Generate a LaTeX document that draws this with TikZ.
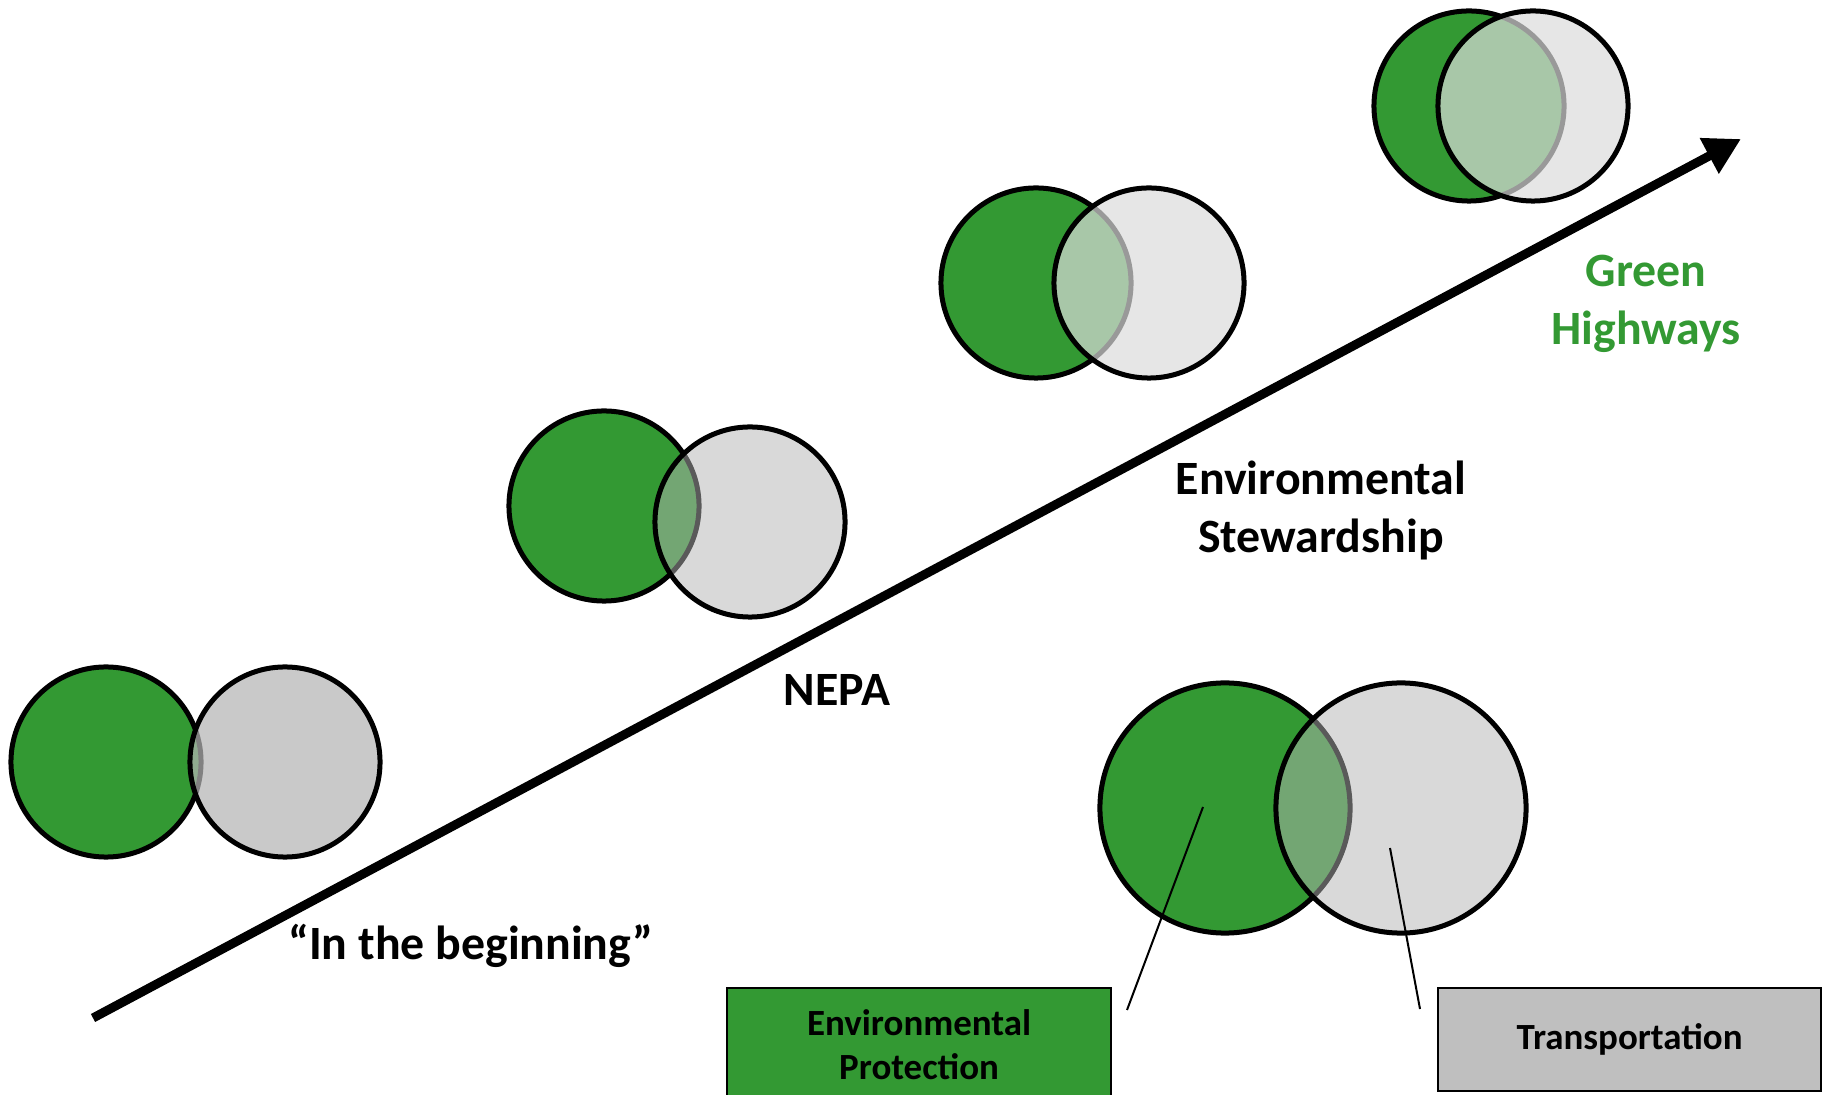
\documentclass[tikz,border=0pt]{standalone}
\usepackage{fontspec}
\setmainfont{Carlito}
\usetikzlibrary{arrows.meta,positioning}

\definecolor{envgreen}{HTML}{339933}
\definecolor{trgray}{HTML}{B4B4B4}
\definecolor{trlight}{HTML}{DBDBDB}

\begin{document}
\begin{tikzpicture}[
  x=0.01cm,
  y=-0.01cm,
  envcirc/.style={
    circle,
    draw,
    line width=0.05cm,
    fill=envgreen,
    minimum size=1.9cm
  },
  trancirc/.style={
    circle,
    draw,
    line width=0.05cm,
    fill=trgray,
    fill opacity=0.5,
    minimum size=1.9cm
  },
  lbl/.style={
    font=\fontsize{13.6}{16.5}\selectfont\bfseries,
    align=center
  },
  boxlbl/.style={
    draw,
    line width=0.02cm,
    minimum width=3.84cm,
    font=\fontsize{10.5}{12.5}\selectfont\bfseries,
    align=center,
    anchor=north west
  }
]
  \useasboundingbox (0,0) rectangle (1827,1095);

  % the timeline arrow
  \coordinate (start) at (93,1018);
  \coordinate (tip) at (1741,139);
  \draw[line width=0.09cm,-{Triangle[length=0.36cm,width=0.38cm]}] (start) -- (tip);

  % four stages along the way
  \node[envcirc] (env1) at (106,762) {};
  \node[trancirc,fill opacity=0.72] (tr1) at (285,762) {};
  \node[envcirc] (env2) at (604,506) {};
  \node[trancirc] (tr2) at (750,522) {};
  \node[envcirc] (env3) at (1036,283) {};
  \node[trancirc,fill=trlight,fill opacity=0.7] (tr3) at (1149,283) {};
  \node[envcirc] (env4) at (1469,106) {};
  \node[trancirc,fill=trlight,fill opacity=0.7] (tr4) at (1533,106) {};

  \node[lbl] (begin) at (471,946) {“In the beginning”};
  \node[lbl] (nepa) at (837,690) {NEPA};
  \node[lbl] (stew) at (1321,510) {Environmental\\Stewardship};
  \node[lbl,text=envgreen] (green) at (1646,304) {Green\\Highways};

  % legend
  \node[envcirc,minimum size=2.5cm] (envbig) at (1225,808) {};
  \node[trancirc,minimum size=2.5cm] (trbig) at (1401,808) {};

  \node[boxlbl,fill=envgreen,minimum height=1.13cm] (envbox) at (726,987)
    {Environmental\\Protection};
  \node[boxlbl,fill=trgray!85,minimum height=1.03cm,minimum width=3.83cm]
    (trbox) at (1437,987) {Transportation};

  \coordinate (envpt) at (1203,807);
  \coordinate (envend) at (1127,1010);
  \coordinate (trpt) at (1390,848);
  \coordinate (trend) at (1420,1009);
  \draw[line width=0.02cm] (envpt) -- (envend);
  \draw[line width=0.02cm] (trpt) -- (trend);
\end{tikzpicture}
\end{document}
